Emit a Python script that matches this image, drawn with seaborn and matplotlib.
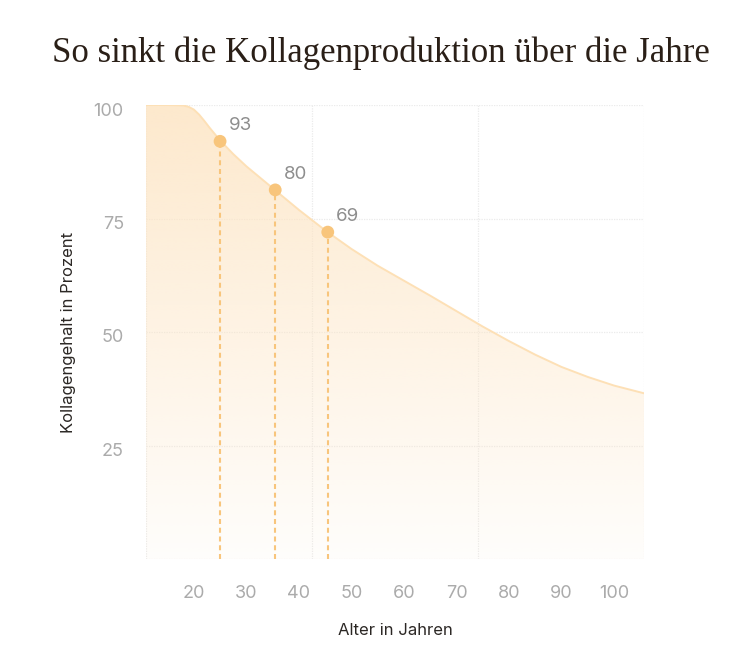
import numpy as np
import pandas as pd
import matplotlib
matplotlib.use("Agg")
import matplotlib.pyplot as plt
import seaborn as sns
from matplotlib.colors import to_rgb
import matplotlib.transforms as mtransforms

# ---- data ----
curve_age = [10.9, 15, 18, 19, 20, 21, 22, 23, 25, 27.5, 30, 35, 40, 45, 50, 55, 60, 65, 70, 75, 80, 85, 90, 95, 100, 105.7]
curve_val = [100, 100, 99.9, 99.6, 99.0, 97.9, 96.5, 95.0, 92.2, 89.2, 86.5, 81.7, 76.9, 72.4, 68.3, 64.6, 61.3, 58.0, 54.6, 51.2, 48.0, 45.0, 42.3, 40.1, 38.2, 36.5]
point_age = [25, 35.5, 45.5]
point_val = [92, 81.3, 72]
point_labels = ["93", "80", "69"]
x_ticks = [20, 30, 40, 50, 60, 70, 80, 90, 100]
y_ticks = [25, 50, 75, 100]
title = "So sinkt die Kollagenproduktion über die Jahre"
xlabel = "Alter in Jahren"
ylabel = "Kollagengehalt in Prozent"

sns.set_theme(style="white")
plt.rcParams["font.family"] = ["Inter", "DejaVu Sans"]

W, H = 752, 664
fig = plt.figure(figsize=(W / 100, H / 100), dpi=100)
L, R, T, B = 146, 644, 105, 559
ax = fig.add_axes([L / W, 1 - B / H, (R - L) / W, (B - T) / H])

xmin, xmax = curve_age[0], curve_age[-1]
ax.set_xlim(xmin, xmax)
ax.set_ylim(0, 100)

df = pd.DataFrame({"age": curve_age, "val": curve_val})

# grid (light dotted)
grid_c = "#ebebeb"
for gx in np.linspace(xmin, xmax, 4):
    ax.axvline(gx, color=grid_c, lw=0.9, ls=(0, (1, 1)), zorder=0)
for gy in [0] + y_ticks:
    ax.axhline(gy, color=grid_c, lw=0.9, ls=(0, (1, 1)), zorder=0)

# gradient fill under curve
poly = ax.fill_between(df["age"], df["val"], 0, color="none", lw=0)
top_c = np.array(to_rgb("#fde5c4"))
n = 256
alpha = np.linspace(0.06, 0.85, n).reshape(n, 1)
img = np.zeros((n, 1, 4))
img[:, :, :3] = top_c
img[:, :, 3] = alpha
im = ax.imshow(img, extent=[xmin, xmax, 0, 100], origin="lower", aspect="auto", zorder=1,
               interpolation="bilinear")
path = poly.get_paths()[0]
im.set_clip_path(path, transform=ax.transData)

# curve line
sns.lineplot(data=df, x="age", y="val", ax=ax, color="#fde0b6", lw=1.4, zorder=2)

# dashed drop lines
pc = "#f8c57c"
ax.vlines(point_age, 0, point_val, colors=pc, lw=1.5, linestyles=(0, (2.4, 1.8)), zorder=3)

# points
pdf = pd.DataFrame({"age": point_age, "val": point_val})
sns.scatterplot(data=pdf, x="age", y="val", ax=ax, color=pc, s=85, edgecolor="none", zorder=4)
for a, v, t in zip(point_age, point_val, point_labels):
    ax.annotate(t, (a, v), xytext=(6, 5), textcoords="offset points", ha="left", va="bottom",
                fontsize=13.5, color="#8e8e8e")

# axes styling
for s in ax.spines.values():
    s.set_visible(False)
ax.set_xticks(x_ticks)
ax.set_xticklabels([str(x) for x in x_ticks])
ax.set_yticks(y_ticks)
ax.set_yticklabels([str(y) for y in y_ticks])
ax.tick_params(axis="both", length=0, labelsize=13, labelcolor="#ababab")
ax.tick_params(axis="x", pad=18.5)
ax.tick_params(axis="y", pad=16)
shift = mtransforms.ScaledTranslation(0, -4 / 100, fig.dpi_scale_trans)
for lab in ax.get_yticklabels():
    lab.set_transform(lab.get_transform() + shift)
ax.set_xlabel(xlabel, fontsize=12, color="#2b2724", labelpad=15)
ax.set_ylabel(ylabel, fontsize=12, color="#2b2724", labelpad=13)
ax.grid(False)

fig.text(381 / W, 1 - 53 / H, title, ha="center", va="center", fontsize=25,
         family=["Liberation Serif", "DejaVu Serif"], color="#2a1f17")

fig.savefig("out.png", dpi=100)
